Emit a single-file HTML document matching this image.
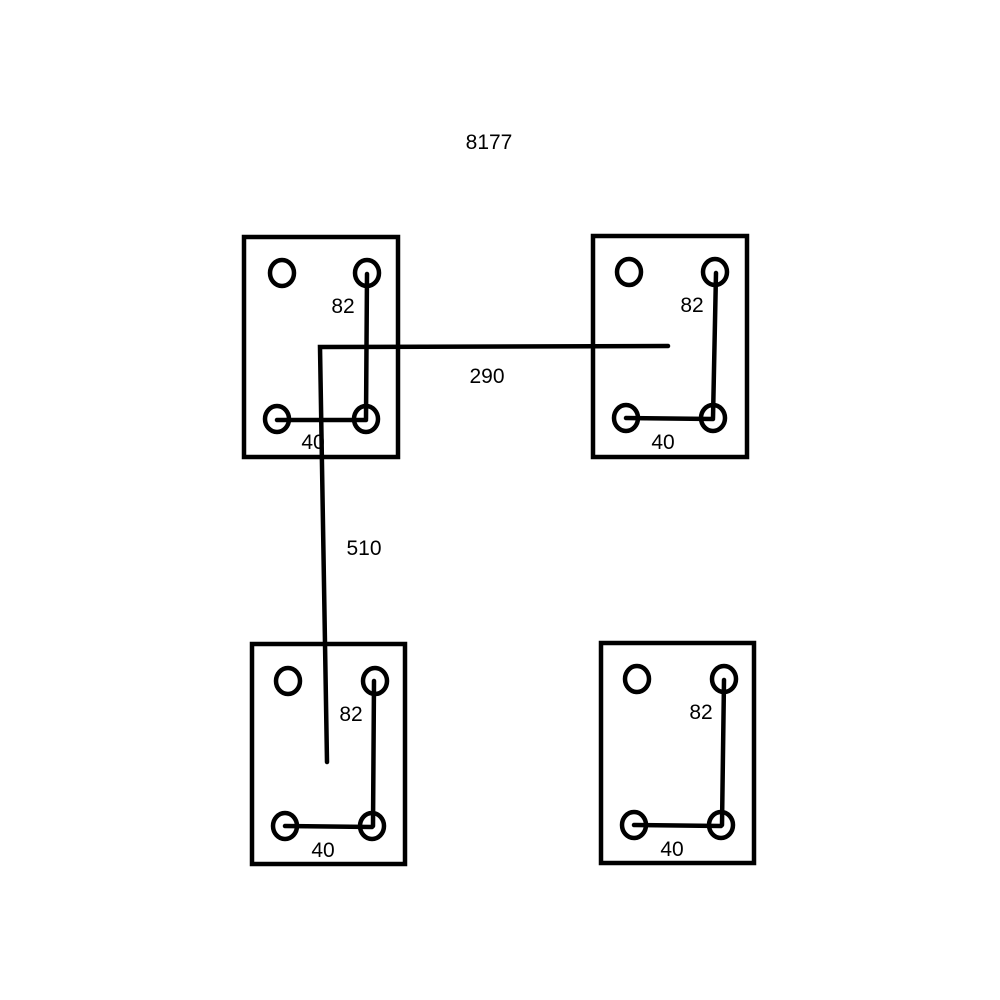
<!DOCTYPE html>
<html><head><meta charset="utf-8"><style>html,body{margin:0;padding:0;background:#fff}svg{display:block}</style></head>
<body>
<svg width="1000" height="1000" viewBox="0 0 1000 1000" xmlns="http://www.w3.org/2000/svg">
<rect width="1000" height="1000" fill="#fff"/>
<g fill="none" stroke="#000" stroke-width="4.5" stroke-linecap="round">
<rect x="244" y="237" width="154" height="220"/>
<rect x="593" y="236" width="154" height="221"/>
<rect x="252" y="644" width="153" height="220"/>
<rect x="601" y="643" width="153" height="220"/>
</g>
<g fill="none" stroke="#000" stroke-width="4.5" stroke-linecap="round">
<ellipse cx="282" cy="273" rx="12" ry="13"/><ellipse cx="367" cy="273" rx="12" ry="13"/>
<ellipse cx="277" cy="419" rx="12" ry="13"/><ellipse cx="366" cy="419" rx="12" ry="13"/>
<ellipse cx="629" cy="272" rx="12" ry="13"/><ellipse cx="715" cy="272" rx="12" ry="13"/>
<ellipse cx="626" cy="418" rx="12" ry="13"/><ellipse cx="713" cy="418" rx="12" ry="13"/>
<ellipse cx="288" cy="681" rx="12" ry="13"/><ellipse cx="375" cy="681" rx="12" ry="13"/>
<ellipse cx="285" cy="826" rx="12" ry="13"/><ellipse cx="372" cy="826" rx="12" ry="13"/>
<ellipse cx="637" cy="679" rx="12" ry="13"/><ellipse cx="724" cy="679" rx="12" ry="13"/>
<ellipse cx="634" cy="825" rx="12" ry="13"/><ellipse cx="721" cy="825" rx="12" ry="13"/>
<path d="M367 274 L366 419 M277 420 L366 420"/>
<path d="M716 273 L713 418 M626 418 L713 419"/>
<path d="M374 681 L373 826 M285 826 L372 827"/>
<path d="M724 680 L722 825 M634 825 L721 826"/>
<path d="M668 346 L320 347 L327 762"/>
</g>
<g font-family="Liberation Sans, sans-serif" font-size="21" fill="#000" text-anchor="middle">
<text x="489" y="149">8177</text>
<text x="343" y="313">82</text><text x="313" y="449">40</text>
<text x="692" y="312">82</text><text x="663" y="449">40</text>
<text x="351" y="721">82</text><text x="323" y="857">40</text>
<text x="701" y="719">82</text><text x="672" y="856">40</text>
<text x="487" y="383">290</text>
<text x="364" y="555">510</text>
</g>
</svg>
</body></html>
